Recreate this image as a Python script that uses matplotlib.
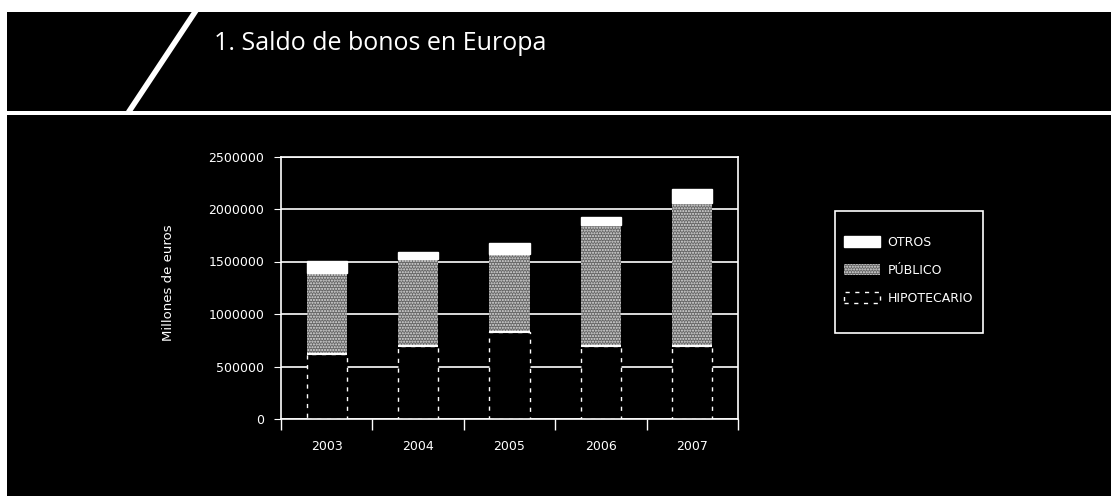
import numpy as np
import matplotlib.pyplot as plt
from matplotlib.patches import Patch, Rectangle
from matplotlib.lines import Line2D

# Saldo de bonos en Europa (millones de euros)
years = ['2003', '2004', '2005', '2006', '2007']
hipotecario = [620000, 695000, 825000, 695000, 695000]
publico = [773000, 832000, 746000, 1149000, 1359000]
otros = [115000, 67000, 102000, 83000, 136000]

title = '1. Saldo de bonos en Europa'
ylabel = 'Millones de euros'
yticks = [0, 500000, 1000000, 1500000, 2000000, 2500000]

plt.rcParams['font.family'] = ['DejaVu Sans']

W, H = 1111, 496
fig = plt.figure(figsize=(W/100, H/100), dpi=100, facecolor='black')

# white borders and header decorations
fig.patches.append(Rectangle((0, 484/H), 1, 12/H, transform=fig.transFigure,
                             facecolor='white', edgecolor='none'))
fig.patches.append(Rectangle((0, 0), 7/W, 1, transform=fig.transFigure,
                             facecolor='white', edgecolor='none'))
fig.patches.append(Rectangle((0, 381/H), 1, 4/H, transform=fig.transFigure,
                             facecolor='white', edgecolor='none'))
fig.add_artist(Line2D([130/W, 195/W], [1 - 110/H, 1 - 12/H],
                      transform=fig.transFigure, color='white', lw=4))
fig.text(214/W, 1 - 43/H, title, color='white', fontsize=18,
         family=['Open Sans', 'DejaVu Sans'], va='center', ha='left')

ax = fig.add_axes([281/W, 1 - 419/H, 457/W, 262.5/H])
ax.set_facecolor('black')
x = np.arange(len(years))
w = 0.44

bottom_pub = np.array(hipotecario)
bottom_otr = bottom_pub + np.array(publico)

ax.bar(x, hipotecario, w, color='black', edgecolor='white', linestyle=(0, (3, 4)),
       linewidth=1, zorder=2)
ax.bar(x, publico, w, bottom=bottom_pub, color='#666666', edgecolor='#e0e0e0',
       hatch='......', linewidth=0, zorder=3)
ax.hlines(bottom_pub, x - w/2, x + w/2, color='white', lw=1.5, zorder=4)
ax.bar(x, otros, w, bottom=bottom_otr, color='white', edgecolor='white', zorder=3)

ax.set_xlim(-0.5, 4.5)
ax.set_ylim(0, 2500000)
ax.set_yticks(yticks)
ax.set_yticklabels([str(v) for v in yticks])
ax.yaxis.grid(True, color='white', lw=1.2)
ax.set_axisbelow(True)

ax.set_xticks(np.arange(-0.5, 5, 1))
ax.set_xticklabels([])
ax.set_xticks(x, minor=True)
ax.set_xticklabels(years, minor=True)
ax.tick_params(axis='x', which='major', length=8, color='white', width=1)
ax.tick_params(axis='x', which='minor', length=0, pad=15, labelcolor='white', labelsize=9)
ax.tick_params(axis='y', length=5, color='white', pad=7, labelcolor='white', labelsize=9)
for s in ax.spines.values():
    s.set_color('white')
    s.set_linewidth(1.2)

fig.text(169/W, 1 - 283/H, ylabel, color='white', fontsize=9.5,
         rotation=90, ha='center', va='center')

# legend: box drawn separately, entries placed inside
fig.patches.append(Rectangle((835/W, 1 - 333/H), 148/W, 122/H, transform=fig.transFigure,
                             facecolor='black', edgecolor='white', lw=1.2))
handles = [
    Patch(facecolor='white', edgecolor='white', label='OTROS'),
    Patch(facecolor='#666666', edgecolor='#e0e0e0', hatch='......', linewidth=0, label='PÚBLICO'),
    Patch(facecolor='black', edgecolor='white', linestyle=(0, (3, 4)), label='HIPOTECARIO'),
]
leg = fig.legend(handles=handles, loc='upper left',
                 bbox_to_anchor=(844/W, 1 - 236/H), frameon=False,
                 borderaxespad=0, borderpad=0,
                 fontsize=9, labelcolor='white', handlelength=2.9,
                 handleheight=1.0, labelspacing=1.2, handletextpad=0.6)

fig.savefig('out.png', dpi=100, facecolor='black')
